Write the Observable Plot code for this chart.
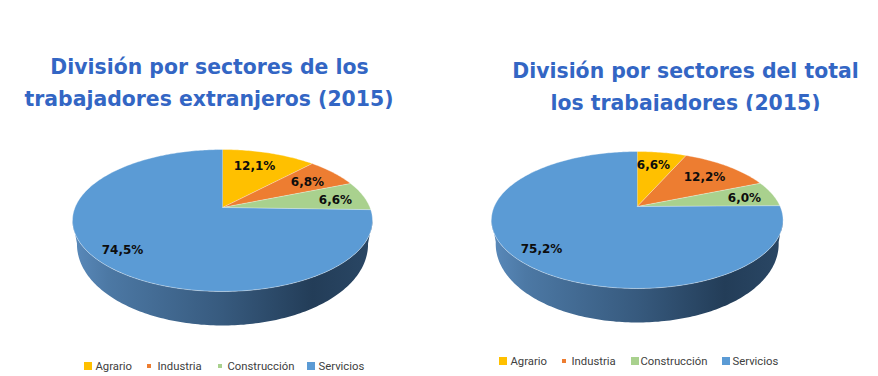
<!DOCTYPE html>
<html lang="es">
<head>
<meta charset="utf-8">
<script src="https://cdn.jsdelivr.net/npm/d3@7"></script>
<script src="https://cdn.jsdelivr.net/npm/@observablehq/plot@0.6"></script>
<style>
html,body{margin:0;padding:0;background:#fff}
svg{display:block}
</style>
</head>
<body>
<div id="chart"></div>
<script>
// ---- Data ----
const sectors = ["Agrario", "Industria", "Construcción", "Servicios"];
const extranjeros = [12.1, 6.8, 6.6, 74.5];
const totalTrabajadores = [6.6, 12.2, 6.0, 75.2];
const sectorColors = ["#FFC000", "#ED7D31", "#A9D18E", "#5B9BD5"];

const fmt = v => v.toFixed(1).replace(".", ",") + "%";

// ---- Layout (pixels, separate from the data) ----
const W = 878, H = 376;
const TITLE = {family: "'DejaVu Sans'", size: 20.4, color: "#3366C4"};
const LEGEND_FONT = "Roboto";
const pies = [
  {
    id: "a", values: extranjeros,
    cx: 222, apexY: 207, R: 147.5, c: 0.183, topY: 149, bottomY: 291, depth: 34,
    title: [["División por sectores de los", 209, 67], ["trabajadores extranjeros (2015)", 208.5, 99]],
    labels: [[254, 166], [307, 182], [335, 200], [122, 250]],
    legendY: 366,
    swatches: [[84, 8], [147, 4], [218, 4], [307, 8]],
    legendX: [95, 157, 227, 318]
  },
  {
    id: "b", values: totalTrabajadores,
    cx: 636.7, apexY: 206, R: 143, c: 0.197, topY: 151, bottomY: 288, depth: 34,
    title: [["División por sectores del total", 685, 71], ["los trabajadores (2015)", 685, 103]],
    labels: [[653, 165], [704, 177], [744, 198], [541, 249]],
    legendY: 361,
    swatches: [[499, 8], [562, 4], [631, 8], [722, 8]],
    legendX: [510, 571, 640, 732]
  }
];

// Perspective projection of a unit-circle point on to the page
function rim(p, deg) {
  const a = deg * Math.PI / 180, X = Math.sin(a), t = Math.cos(a);
  const b = p.topY * (1 + p.c) - p.apexY;
  const q = 1 + p.c * t;
  return {x: p.cx + p.R * X / q, y: (p.apexY + b * t) / q, t};
}

const sliceRows = [], wallRows = [], labelRows = [], legendRows = [], swatchRows = [], titleRows = [];

for (const p of pies) {
  // slices, from the values
  const total = d3.sum(p.values);
  let acc = 0;
  p.values.forEach((v, i) => {
    const a0 = acc / total * 360, a1 = (acc + v) / total * 360;
    acc += v;
    const z = p.id + i;
    sliceRows.push({z, sector: sectors[i], x: p.cx, y: p.apexY});
    for (const deg of d3.range(a0, a1, 1).concat(a1)) {
      const r = rim(p, deg);
      sliceRows.push({z, sector: sectors[i], x: r.x, y: r.y});
    }
    labelRows.push({x: p.labels[i][0], y: p.labels[i][1], text: fmt(v)});
    legendRows.push({x: p.legendX[i], y: p.legendY, text: sectors[i]});
    const [sx, size] = p.swatches[i];
    swatchRows.push({sector: sectors[i], x1: sx, x2: sx + size, y1: p.legendY - size / 2, y2: p.legendY + size / 2});
  });
  // side wall
  const angles = d3.range(100, 261, 1);
  const lower = deg => {
    const r = rim(p, deg);
    const d = p.depth - 12.5 * (1 + r.t);
    return {x: p.cx + (r.x - p.cx) * 0.97, y: r.y + d};
  };
  for (const deg of angles) wallRows.push({z: p.id, ...rim(p, deg)});
  for (const deg of angles.slice().reverse()) wallRows.push({z: p.id, ...lower(deg)});
  for (const [text, x, y] of p.title) titleRows.push({text, x, y});
}

const gradient = () => {
  const defs = d3.create("svg:defs");
  const g = defs.append("linearGradient").attr("id", "wall");
  [[0, "#5A8ABB"], [0.12, "#4C78A4"], [0.5, "#375A7E"], [0.8, "#233D58"], [1, "#2A4765"]]
    .forEach(([o, c]) => g.append("stop").attr("offset", o).attr("stop-color", c));
  return defs.node();
};

const chart = Plot.plot({
  width: W, height: H,
  margin: 0,
  x: {domain: [0, W], range: [0, W], axis: null},
  y: {domain: [0, H], range: [0, H], axis: null},
  color: {domain: sectors, range: sectorColors},
  style: {background: "#fff"},
  marks: [
    gradient,
    Plot.line(wallRows, {x: "x", y: "y", z: "z", fill: "url(#wall)", stroke: "none"}),
    Plot.line(sliceRows, {x: "x", y: "y", z: "z", fill: "sector", stroke: "#fff", strokeWidth: 0.6, strokeOpacity: 0.6}),
    Plot.text(labelRows, {x: "x", y: "y", text: "text", fontFamily: "'DejaVu Sans'", fontWeight: "bold", fontSize: 12, fill: "#0d0d0d"}),
    Plot.text(titleRows, {x: "x", y: "y", text: "text", fontFamily: TITLE.family, fontWeight: "bold", fontSize: TITLE.size, fill: TITLE.color}),
    Plot.rect([{x1: 500, x2: 878, y1: 111, y2: 125}], {x1: "x1", x2: "x2", y1: "y1", y2: "y2", fill: "#fff"}),
    Plot.rect(swatchRows, {x1: "x1", x2: "x2", y1: "y1", y2: "y2", fill: "sector"}),
    Plot.text(legendRows, {x: "x", y: "y", text: "text", textAnchor: "start", fontFamily: LEGEND_FONT, fontSize: 11.3, fill: "#404040"})
  ]
});
document.getElementById("chart").append(chart);
</script>
</body>
</html>
